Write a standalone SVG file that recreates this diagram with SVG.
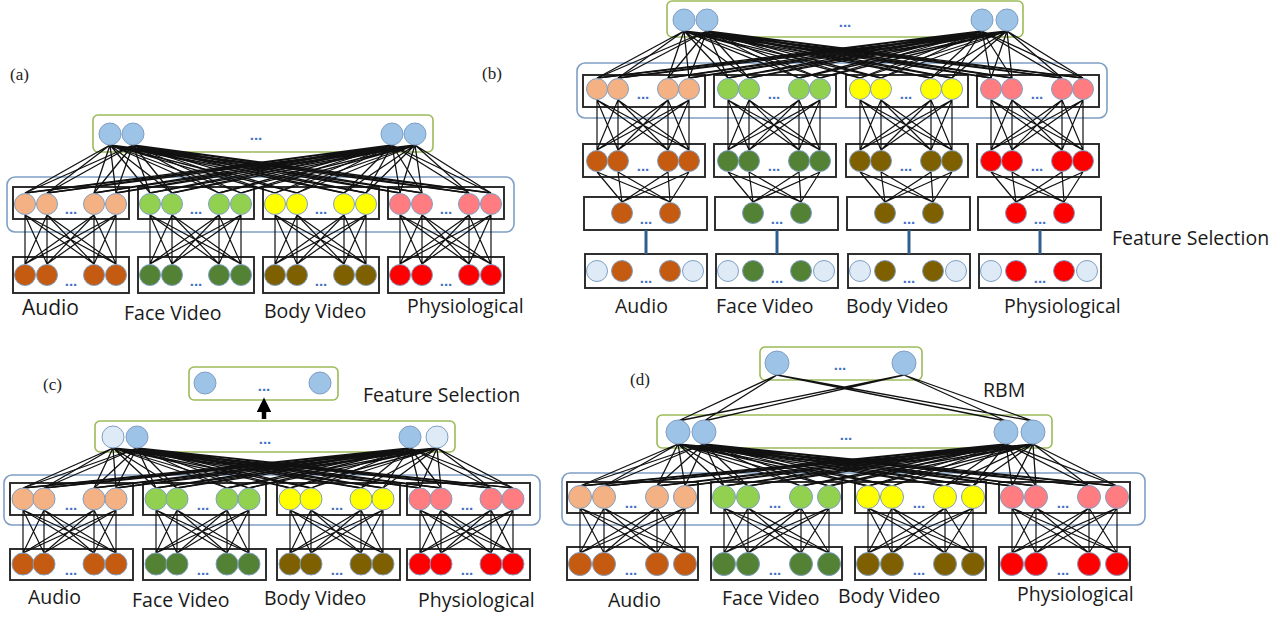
<svg xmlns="http://www.w3.org/2000/svg" width="1282" height="617" viewBox="0 0 1282 617">
<style>
.bg{fill:#fff}
.gb{fill:#fff;stroke:#9bbb59;stroke-width:1.6}
.bb{fill:none;stroke:#7f9fc4;stroke-width:1.6}
.kb{fill:none;stroke:#262626;stroke-width:1.9}
.ln{fill:none;stroke:#111;stroke-width:1.2}
.fan{fill:none;stroke:#111;stroke-width:1.3}
.bar{stroke:#2f5f8f;stroke-width:3}
circle{stroke:#7f9fc4;stroke-width:1}
.lo{fill:#f4b183}.do{fill:#c55a11}.lg{fill:#92d050}.dg{fill:#548235}
.ye{fill:#ffff00}.ol{fill:#7f6000}.pk{fill:#ff7c80}.rd{fill:#ff0000}
.bl{fill:#9dc3e6}.lb{fill:#deebf7}
.dt{font-family:"Liberation Sans",Arial,sans-serif;font-size:15px;font-weight:bold;fill:#4472c4;text-anchor:middle}
.lab{font-family:"Open Sans","Liberation Sans",sans-serif;font-size:19.5px;fill:#1a1a1a}
.pl{font-family:"Liberation Serif","Times New Roman",serif;font-size:17px;fill:#222}
</style>
<defs>
<marker id="ah" viewBox="0 0 10 10" refX="2" refY="5" markerWidth="3.2" markerHeight="3.2" orient="auto">
<path d="M0,0L10,5L0,10z" fill="#000"/>
</marker>
<path id="ma" class="ln" d="M12 215L12 264M12 215L34 264M12 215L81 264M12 215L103 264M34 215L12 264M34 215L34 264M34 215L81 264M34 215L103 264M81 215L12 264M81 215L34 264M81 215L81 264M81 215L103 264M103 215L12 264M103 215L34 264M103 215L81 264M103 215L103 264"/>
<path id="mb1" class="ln" d="M14 100L14 150M14 100L35 150M14 100L85 150M14 100L106 150M35 100L14 150M35 100L35 150M35 100L85 150M35 100L106 150M85 100L14 150M85 100L35 150M85 100L85 150M85 100L106 150M106 100L14 150M106 100L35 150M106 100L85 150M106 100L106 150"/>
<path id="mb2" class="ln" d="M14 172L39 202M14 172L87 202M35 172L39 202M35 172L87 202M85 172L39 202M85 172L87 202M106 172L39 202M106 172L87 202"/>
<path id="mc" class="ln" d="M13 510L13 553M13 510L34 553M13 510L84 553M13 510L106 553M34 510L13 553M34 510L34 553M34 510L84 553M34 510L106 553M84 510L13 553M84 510L34 553M84 510L84 553M84 510L106 553M106 510L13 553M106 510L34 553M106 510L84 553M106 510L106 553"/>
<path id="md" class="ln" d="M13 508L13 553M13 508L37 553M13 508L90 553M13 508L118 553M37 508L13 553M37 508L37 553M37 508L90 553M37 508L118 553M90 508L13 553M90 508L37 553M90 508L90 553M90 508L118 553M118 508L13 553M118 508L37 553M118 508L90 553M118 508L118 553"/>
</defs>
<rect class="bg" x="0" y="0" width="1282" height="617"/>

<!-- ===== Panel (a) boxes ===== -->
<g id="a-joint"><rect class="gb" x="93" y="115" width="340" height="37" rx="5"/></g>
<g id="a-shared"><rect class="bb" x="7" y="177" width="507" height="55" rx="8"/></g>
<g id="a-boxes">
<rect class="kb" x="13" y="187" width="116" height="32"/><rect class="kb" x="138" y="187" width="116" height="32"/><rect class="kb" x="263" y="187" width="116" height="32"/><rect class="kb" x="388" y="187" width="116" height="32"/>
<rect class="kb" x="13" y="257" width="116" height="36"/><rect class="kb" x="138" y="257" width="116" height="36"/><rect class="kb" x="263" y="257" width="116" height="36"/><rect class="kb" x="388" y="257" width="116" height="36"/>
</g>

<!-- ===== Panel (b) boxes ===== -->
<g id="b-joint"><rect class="gb" x="667" y="1" width="356" height="36" rx="5"/></g>
<g id="b-shared"><rect class="bb" x="577" y="63" width="530" height="55" rx="8"/></g>
<g id="b-boxes">
<rect class="kb" x="583" y="75" width="122" height="32"/><rect class="kb" x="714" y="75" width="122" height="32"/><rect class="kb" x="846" y="75" width="122" height="32"/><rect class="kb" x="977" y="75" width="122" height="32"/>
<rect class="kb" x="583" y="144" width="122" height="33"/><rect class="kb" x="714" y="144" width="122" height="33"/><rect class="kb" x="846" y="144" width="122" height="33"/><rect class="kb" x="977" y="144" width="122" height="33"/>
<rect class="kb" x="584" y="197" width="123" height="33"/><rect class="kb" x="715" y="197" width="123" height="33"/><rect class="kb" x="847" y="197" width="123" height="33"/><rect class="kb" x="978" y="197" width="123" height="33"/>
<rect class="kb" x="585" y="254" width="122" height="34"/><rect class="kb" x="716" y="254" width="122" height="34"/><rect class="kb" x="848" y="254" width="122" height="34"/><rect class="kb" x="979" y="254" width="122" height="34"/>
</g>

<!-- ===== Panel (c) boxes ===== -->
<g id="c-selected"><rect class="gb" x="189" y="367" width="149" height="33" rx="5"/></g>
<g id="c-joint"><rect class="gb" x="95" y="421" width="360" height="31" rx="5"/></g>
<g id="c-shared"><rect class="bb" x="4" y="475" width="536" height="50" rx="8"/></g>
<g id="c-boxes">
<rect class="kb" x="10" y="483" width="123" height="32"/><rect class="kb" x="143" y="483" width="123" height="32"/><rect class="kb" x="277" y="483" width="123" height="32"/><rect class="kb" x="407" y="483" width="123" height="32"/>
<rect class="kb" x="10" y="549" width="123" height="31"/><rect class="kb" x="143" y="549" width="123" height="31"/><rect class="kb" x="277" y="549" width="123" height="31"/><rect class="kb" x="407" y="549" width="123" height="31"/>
</g>

<!-- ===== Panel (d) boxes ===== -->
<g id="d-rbm"><rect class="gb" x="760" y="347" width="162" height="33" rx="5"/></g>
<g id="d-joint"><rect class="gb" x="657" y="415" width="395" height="33" rx="5"/></g>
<g id="d-shared"><rect class="bb" x="562" y="473" width="583" height="52" rx="8"/></g>
<g id="d-boxes">
<rect class="kb" x="567" y="482" width="131" height="31"/><rect class="kb" x="711" y="482" width="131" height="31"/><rect class="kb" x="855" y="482" width="131" height="31"/><rect class="kb" x="999" y="482" width="131" height="31"/>
<rect class="kb" x="567" y="547" width="131" height="33"/><rect class="kb" x="711" y="547" width="131" height="33"/><rect class="kb" x="855" y="547" width="131" height="33"/><rect class="kb" x="999" y="547" width="131" height="33"/>
</g>

<!-- ===== Connectors ===== -->
<g id="connectors">
<!-- (a) -->
<path class="fan" d="M110 145L25 193M110 145L47 193M110 145L94 193M110 145L116 193M110 145L150 193M110 145L172 193M110 145L219 193M110 145L241 193M110 145L275 193M110 145L297 193M110 145L344 193M110 145L366 193M110 145L400 193M110 145L422 193M110 145L469 193M110 145L491 193"/>
<path class="fan" d="M133 145L25 193M133 145L47 193M133 145L94 193M133 145L116 193M133 145L150 193M133 145L172 193M133 145L219 193M133 145L241 193M133 145L275 193M133 145L297 193M133 145L344 193M133 145L366 193M133 145L400 193M133 145L422 193M133 145L469 193M133 145L491 193"/>
<path class="fan" d="M392 145L25 193M392 145L47 193M392 145L94 193M392 145L116 193M392 145L150 193M392 145L172 193M392 145L219 193M392 145L241 193M392 145L275 193M392 145L297 193M392 145L344 193M392 145L366 193M392 145L400 193M392 145L422 193M392 145L469 193M392 145L491 193"/>
<path class="fan" d="M415 145L25 193M415 145L47 193M415 145L94 193M415 145L116 193M415 145L150 193M415 145L172 193M415 145L219 193M415 145L241 193M415 145L275 193M415 145L297 193M415 145L344 193M415 145L366 193M415 145L400 193M415 145L422 193M415 145L469 193M415 145L491 193"/>
<use href="#ma" x="13"/><use href="#ma" x="138"/><use href="#ma" x="263"/><use href="#ma" x="388"/>
<!-- (b) -->
<path class="fan" d="M684 31L597 78M684 31L618 78M684 31L668 78M684 31L689 78M684 31L728 78M684 31L749 78M684 31L799 78M684 31L820 78M684 31L860 78M684 31L881 78M684 31L931 78M684 31L952 78M684 31L991 78M684 31L1012 78M684 31L1062 78M684 31L1083 78"/>
<path class="fan" d="M707 31L597 78M707 31L618 78M707 31L668 78M707 31L689 78M707 31L728 78M707 31L749 78M707 31L799 78M707 31L820 78M707 31L860 78M707 31L881 78M707 31L931 78M707 31L952 78M707 31L991 78M707 31L1012 78M707 31L1062 78M707 31L1083 78"/>
<path class="fan" d="M982 31L597 78M982 31L618 78M982 31L668 78M982 31L689 78M982 31L728 78M982 31L749 78M982 31L799 78M982 31L820 78M982 31L860 78M982 31L881 78M982 31L931 78M982 31L952 78M982 31L991 78M982 31L1012 78M982 31L1062 78M982 31L1083 78"/>
<path class="fan" d="M1007 31L597 78M1007 31L618 78M1007 31L668 78M1007 31L689 78M1007 31L728 78M1007 31L749 78M1007 31L799 78M1007 31L820 78M1007 31L860 78M1007 31L881 78M1007 31L931 78M1007 31L952 78M1007 31L991 78M1007 31L1012 78M1007 31L1062 78M1007 31L1083 78"/>
<use href="#mb1" x="583"/><use href="#mb1" x="714"/><use href="#mb1" x="846"/><use href="#mb1" x="977"/>
<use href="#mb2" x="583"/><use href="#mb2" x="714"/><use href="#mb2" x="846"/><use href="#mb2" x="977"/>
<line class="bar" x1="646" y1="230" x2="646" y2="254"/><line class="bar" x1="777" y1="230" x2="777" y2="254"/><line class="bar" x1="909" y1="230" x2="909" y2="254"/><line class="bar" x1="1040" y1="230" x2="1040" y2="254"/>
<!-- (c) -->
<line x1="264" y1="419" x2="264" y2="409" stroke="#000" stroke-width="4.5" marker-end="url(#ah)"/>
<path class="fan" d="M113 448L23 488M113 448L44 488M113 448L94 488M113 448L116 488M113 448L156 488M113 448L177 488M113 448L227 488M113 448L249 488M113 448L290 488M113 448L311 488M113 448L361 488M113 448L383 488M113 448L420 488M113 448L441 488M113 448L491 488M113 448L513 488"/>
<path class="fan" d="M137 448L23 488M137 448L44 488M137 448L94 488M137 448L116 488M137 448L156 488M137 448L177 488M137 448L227 488M137 448L249 488M137 448L290 488M137 448L311 488M137 448L361 488M137 448L383 488M137 448L420 488M137 448L441 488M137 448L491 488M137 448L513 488"/>
<path class="fan" d="M410 448L23 488M410 448L44 488M410 448L94 488M410 448L116 488M410 448L156 488M410 448L177 488M410 448L227 488M410 448L249 488M410 448L290 488M410 448L311 488M410 448L361 488M410 448L383 488M410 448L420 488M410 448L441 488M410 448L491 488M410 448L513 488"/>
<path class="fan" d="M437 448L23 488M437 448L44 488M437 448L94 488M437 448L116 488M437 448L156 488M437 448L177 488M437 448L227 488M437 448L249 488M437 448L290 488M437 448L311 488M437 448L361 488M437 448L383 488M437 448L420 488M437 448L441 488M437 448L491 488M437 448L513 488"/>
<use href="#mc" x="10"/><use href="#mc" x="143"/><use href="#mc" x="277"/><use href="#mc" x="407"/>
<!-- (d) -->
<path class="fan" d="M777 375L678 421M777 375L704 421M777 375L1006 421M777 375L1033 421M904 375L678 421M904 375L704 421M904 375L1006 421M904 375L1033 421"/>
<path class="fan" d="M678 444L580 486M678 444L604 486M678 444L657 486M678 444L685 486M678 444L724 486M678 444L748 486M678 444L801 486M678 444L829 486M678 444L868 486M678 444L892 486M678 444L945 486M678 444L973 486M678 444L1012 486M678 444L1036 486M678 444L1089 486M678 444L1117 486"/>
<path class="fan" d="M704 444L580 486M704 444L604 486M704 444L657 486M704 444L685 486M704 444L724 486M704 444L748 486M704 444L801 486M704 444L829 486M704 444L868 486M704 444L892 486M704 444L945 486M704 444L973 486M704 444L1012 486M704 444L1036 486M704 444L1089 486M704 444L1117 486"/>
<path class="fan" d="M1006 444L580 486M1006 444L604 486M1006 444L657 486M1006 444L685 486M1006 444L724 486M1006 444L748 486M1006 444L801 486M1006 444L829 486M1006 444L868 486M1006 444L892 486M1006 444L945 486M1006 444L973 486M1006 444L1012 486M1006 444L1036 486M1006 444L1089 486M1006 444L1117 486"/>
<path class="fan" d="M1033 444L580 486M1033 444L604 486M1033 444L657 486M1033 444L685 486M1033 444L724 486M1033 444L748 486M1033 444L801 486M1033 444L829 486M1033 444L868 486M1033 444L892 486M1033 444L945 486M1033 444L973 486M1033 444L1012 486M1033 444L1036 486M1033 444L1089 486M1033 444L1117 486"/>
<use href="#md" x="567"/><use href="#md" x="711"/><use href="#md" x="855"/><use href="#md" x="999"/>
</g>

<!-- ===== Panel (a) nodes ===== -->
<g id="a-joint-units"><circle class="bl" cx="110" cy="134" r="11"/><circle class="bl" cx="133" cy="134" r="11"/><circle class="bl" cx="392" cy="134" r="11"/><circle class="bl" cx="415" cy="134" r="11"/><text class="dt" x="256" y="140">...</text></g>
<g id="a-audio-hidden"><circle class="lo" cx="25" cy="204" r="10.5"/><circle class="lo" cx="47" cy="204" r="10.5"/><circle class="lo" cx="94" cy="204" r="10.5"/><circle class="lo" cx="116" cy="204" r="10.5"/><text class="dt" x="71" y="214">...</text></g>
<g id="a-face-hidden"><circle class="lg" cx="150" cy="204" r="10.5"/><circle class="lg" cx="172" cy="204" r="10.5"/><circle class="lg" cx="219" cy="204" r="10.5"/><circle class="lg" cx="241" cy="204" r="10.5"/><text class="dt" x="196" y="214">...</text></g>
<g id="a-body-hidden"><circle class="ye" cx="275" cy="204" r="10.5"/><circle class="ye" cx="297" cy="204" r="10.5"/><circle class="ye" cx="344" cy="204" r="10.5"/><circle class="ye" cx="366" cy="204" r="10.5"/><text class="dt" x="321" y="214">...</text></g>
<g id="a-phys-hidden"><circle class="pk" cx="400" cy="204" r="10.5"/><circle class="pk" cx="422" cy="204" r="10.5"/><circle class="pk" cx="469" cy="204" r="10.5"/><circle class="pk" cx="491" cy="204" r="10.5"/><text class="dt" x="446" y="214">...</text></g>
<g id="a-audio-input"><circle class="do" cx="25" cy="275" r="10.5"/><circle class="do" cx="47" cy="275" r="10.5"/><circle class="do" cx="94" cy="275" r="10.5"/><circle class="do" cx="116" cy="275" r="10.5"/><text class="dt" x="71" y="286">...</text></g>
<g id="a-face-input"><circle class="dg" cx="150" cy="275" r="10.5"/><circle class="dg" cx="172" cy="275" r="10.5"/><circle class="dg" cx="219" cy="275" r="10.5"/><circle class="dg" cx="241" cy="275" r="10.5"/><text class="dt" x="196" y="286">...</text></g>
<g id="a-body-input"><circle class="ol" cx="275" cy="275" r="10.5"/><circle class="ol" cx="297" cy="275" r="10.5"/><circle class="ol" cx="344" cy="275" r="10.5"/><circle class="ol" cx="366" cy="275" r="10.5"/><text class="dt" x="321" y="286">...</text></g>
<g id="a-phys-input"><circle class="rd" cx="400" cy="275" r="10.5"/><circle class="rd" cx="422" cy="275" r="10.5"/><circle class="rd" cx="469" cy="275" r="10.5"/><circle class="rd" cx="491" cy="275" r="10.5"/><text class="dt" x="446" y="286">...</text></g>

<!-- ===== Panel (b) nodes ===== -->
<g id="b-joint-units"><circle class="bl" cx="684" cy="20" r="11"/><circle class="bl" cx="707" cy="20" r="11"/><circle class="bl" cx="982" cy="20" r="11"/><circle class="bl" cx="1007" cy="20" r="11"/><text class="dt" x="845" y="27">...</text></g>
<g id="b-audio-h1"><circle class="lo" cx="597" cy="89" r="10.5"/><circle class="lo" cx="618" cy="89" r="10.5"/><circle class="lo" cx="668" cy="89" r="10.5"/><circle class="lo" cx="689" cy="89" r="10.5"/><text class="dt" x="643" y="99">...</text></g>
<g id="b-face-h1"><circle class="lg" cx="728" cy="89" r="10.5"/><circle class="lg" cx="749" cy="89" r="10.5"/><circle class="lg" cx="799" cy="89" r="10.5"/><circle class="lg" cx="820" cy="89" r="10.5"/><text class="dt" x="774" y="99">...</text></g>
<g id="b-body-h1"><circle class="ye" cx="860" cy="89" r="10.5"/><circle class="ye" cx="881" cy="89" r="10.5"/><circle class="ye" cx="931" cy="89" r="10.5"/><circle class="ye" cx="952" cy="89" r="10.5"/><text class="dt" x="906" y="99">...</text></g>
<g id="b-phys-h1"><circle class="pk" cx="991" cy="89" r="10.5"/><circle class="pk" cx="1012" cy="89" r="10.5"/><circle class="pk" cx="1062" cy="89" r="10.5"/><circle class="pk" cx="1083" cy="89" r="10.5"/><text class="dt" x="1037" y="99">...</text></g>
<g id="b-audio-in"><circle class="do" cx="597" cy="161" r="10.5"/><circle class="do" cx="618" cy="161" r="10.5"/><circle class="do" cx="668" cy="161" r="10.5"/><circle class="do" cx="689" cy="161" r="10.5"/><text class="dt" x="643" y="171">...</text></g>
<g id="b-face-in"><circle class="dg" cx="728" cy="161" r="10.5"/><circle class="dg" cx="749" cy="161" r="10.5"/><circle class="dg" cx="799" cy="161" r="10.5"/><circle class="dg" cx="820" cy="161" r="10.5"/><text class="dt" x="774" y="171">...</text></g>
<g id="b-body-in"><circle class="ol" cx="860" cy="161" r="10.5"/><circle class="ol" cx="881" cy="161" r="10.5"/><circle class="ol" cx="931" cy="161" r="10.5"/><circle class="ol" cx="952" cy="161" r="10.5"/><text class="dt" x="906" y="171">...</text></g>
<g id="b-phys-in"><circle class="rd" cx="991" cy="161" r="10.5"/><circle class="rd" cx="1012" cy="161" r="10.5"/><circle class="rd" cx="1062" cy="161" r="10.5"/><circle class="rd" cx="1083" cy="161" r="10.5"/><text class="dt" x="1037" y="171">...</text></g>
<g id="b-audio-raw"><circle class="do" cx="622" cy="213" r="10.5"/><circle class="do" cx="670" cy="213" r="10.5"/><text class="dt" x="646" y="224">...</text></g>
<g id="b-face-raw"><circle class="dg" cx="753" cy="213" r="10.5"/><circle class="dg" cx="801" cy="213" r="10.5"/><text class="dt" x="777" y="224">...</text></g>
<g id="b-body-raw"><circle class="ol" cx="885" cy="213" r="10.5"/><circle class="ol" cx="933" cy="213" r="10.5"/><text class="dt" x="909" y="224">...</text></g>
<g id="b-phys-raw"><circle class="rd" cx="1016" cy="213" r="10.5"/><circle class="rd" cx="1064" cy="213" r="10.5"/><text class="dt" x="1040" y="224">...</text></g>
<g id="b-audio-sel"><circle class="lb" cx="597" cy="271" r="10.5"/><circle class="do" cx="622" cy="271" r="10.5"/><circle class="do" cx="670" cy="271" r="10.5"/><circle class="lb" cx="693" cy="271" r="10.5"/><text class="dt" x="646" y="283">...</text></g>
<g id="b-face-sel"><circle class="lb" cx="728" cy="271" r="10.5"/><circle class="dg" cx="753" cy="271" r="10.5"/><circle class="dg" cx="801" cy="271" r="10.5"/><circle class="lb" cx="824" cy="271" r="10.5"/><text class="dt" x="777" y="283">...</text></g>
<g id="b-body-sel"><circle class="lb" cx="860" cy="271" r="10.5"/><circle class="ol" cx="885" cy="271" r="10.5"/><circle class="ol" cx="933" cy="271" r="10.5"/><circle class="lb" cx="956" cy="271" r="10.5"/><text class="dt" x="909" y="283">...</text></g>
<g id="b-phys-sel"><circle class="lb" cx="991" cy="271" r="10.5"/><circle class="rd" cx="1016" cy="271" r="10.5"/><circle class="rd" cx="1064" cy="271" r="10.5"/><circle class="lb" cx="1087" cy="271" r="10.5"/><text class="dt" x="1040" y="283">...</text></g>

<!-- ===== Panel (c) nodes ===== -->
<g id="c-selected-units"><circle class="bl" cx="205" cy="383" r="11"/><circle class="bl" cx="320" cy="383" r="11"/><text class="dt" x="264" y="391">...</text></g>
<g id="c-joint-units"><circle class="lb" cx="113" cy="437" r="11"/><circle class="bl" cx="137" cy="437" r="11"/><circle class="bl" cx="410" cy="437" r="11"/><circle class="lb" cx="437" cy="437" r="11"/><text class="dt" x="265" y="444">...</text></g>
<g id="c-audio-hidden"><circle class="lo" cx="23" cy="499" r="11"/><circle class="lo" cx="44" cy="499" r="11"/><circle class="lo" cx="94" cy="499" r="11"/><circle class="lo" cx="116" cy="499" r="11"/><text class="dt" x="71" y="510">...</text></g>
<g id="c-face-hidden"><circle class="lg" cx="156" cy="499" r="11"/><circle class="lg" cx="177" cy="499" r="11"/><circle class="lg" cx="227" cy="499" r="11"/><circle class="lg" cx="249" cy="499" r="11"/><text class="dt" x="203" y="510">...</text></g>
<g id="c-body-hidden"><circle class="ye" cx="290" cy="499" r="11"/><circle class="ye" cx="311" cy="499" r="11"/><circle class="ye" cx="361" cy="499" r="11"/><circle class="ye" cx="383" cy="499" r="11"/><text class="dt" x="337" y="510">...</text></g>
<g id="c-phys-hidden"><circle class="pk" cx="420" cy="499" r="11"/><circle class="pk" cx="441" cy="499" r="11"/><circle class="pk" cx="491" cy="499" r="11"/><circle class="pk" cx="513" cy="499" r="11"/><text class="dt" x="467" y="510">...</text></g>
<g id="c-audio-input"><circle class="do" cx="23" cy="564" r="11"/><circle class="do" cx="44" cy="564" r="11"/><circle class="do" cx="94" cy="564" r="11"/><circle class="do" cx="116" cy="564" r="11"/><text class="dt" x="71" y="575">...</text></g>
<g id="c-face-input"><circle class="dg" cx="156" cy="564" r="11"/><circle class="dg" cx="177" cy="564" r="11"/><circle class="dg" cx="227" cy="564" r="11"/><circle class="dg" cx="249" cy="564" r="11"/><text class="dt" x="203" y="575">...</text></g>
<g id="c-body-input"><circle class="ol" cx="290" cy="564" r="11"/><circle class="ol" cx="311" cy="564" r="11"/><circle class="ol" cx="361" cy="564" r="11"/><circle class="ol" cx="383" cy="564" r="11"/><text class="dt" x="337" y="575">...</text></g>
<g id="c-phys-input"><circle class="rd" cx="420" cy="564" r="11"/><circle class="rd" cx="441" cy="564" r="11"/><circle class="rd" cx="491" cy="564" r="11"/><circle class="rd" cx="513" cy="564" r="11"/><text class="dt" x="467" y="575">...</text></g>

<!-- ===== Panel (d) nodes ===== -->
<g id="d-rbm-units"><circle class="bl" cx="777" cy="363" r="12"/><circle class="bl" cx="904" cy="363" r="12"/><text class="dt" x="840" y="370">...</text></g>
<g id="d-joint-units"><circle class="bl" cx="678" cy="432" r="12"/><circle class="bl" cx="704" cy="432" r="12"/><circle class="bl" cx="1006" cy="432" r="12"/><circle class="bl" cx="1033" cy="432" r="12"/><text class="dt" x="846" y="440">...</text></g>
<g id="d-audio-hidden"><circle class="lo" cx="580" cy="497" r="11.5"/><circle class="lo" cx="604" cy="497" r="11.5"/><circle class="lo" cx="657" cy="497" r="11.5"/><circle class="lo" cx="685" cy="497" r="11.5"/><text class="dt" x="631" y="508">...</text></g>
<g id="d-face-hidden"><circle class="lg" cx="724" cy="497" r="11.5"/><circle class="lg" cx="748" cy="497" r="11.5"/><circle class="lg" cx="801" cy="497" r="11.5"/><circle class="lg" cx="829" cy="497" r="11.5"/><text class="dt" x="775" y="508">...</text></g>
<g id="d-body-hidden"><circle class="ye" cx="868" cy="497" r="11.5"/><circle class="ye" cx="892" cy="497" r="11.5"/><circle class="ye" cx="945" cy="497" r="11.5"/><circle class="ye" cx="973" cy="497" r="11.5"/><text class="dt" x="919" y="508">...</text></g>
<g id="d-phys-hidden"><circle class="pk" cx="1012" cy="497" r="11.5"/><circle class="pk" cx="1036" cy="497" r="11.5"/><circle class="pk" cx="1089" cy="497" r="11.5"/><circle class="pk" cx="1117" cy="497" r="11.5"/><text class="dt" x="1063" y="508">...</text></g>
<g id="d-audio-input"><circle class="do" cx="580" cy="564" r="11.5"/><circle class="do" cx="604" cy="564" r="11.5"/><circle class="do" cx="657" cy="564" r="11.5"/><circle class="do" cx="685" cy="564" r="11.5"/><text class="dt" x="631" y="575">...</text></g>
<g id="d-face-input"><circle class="dg" cx="724" cy="564" r="11.5"/><circle class="dg" cx="748" cy="564" r="11.5"/><circle class="dg" cx="801" cy="564" r="11.5"/><circle class="dg" cx="829" cy="564" r="11.5"/><text class="dt" x="775" y="575">...</text></g>
<g id="d-body-input"><circle class="ol" cx="868" cy="564" r="11.5"/><circle class="ol" cx="892" cy="564" r="11.5"/><circle class="ol" cx="945" cy="564" r="11.5"/><circle class="ol" cx="973" cy="564" r="11.5"/><text class="dt" x="919" y="575">...</text></g>
<g id="d-phys-input"><circle class="rd" cx="1012" cy="564" r="11.5"/><circle class="rd" cx="1036" cy="564" r="11.5"/><circle class="rd" cx="1089" cy="564" r="11.5"/><circle class="rd" cx="1117" cy="564" r="11.5"/><text class="dt" x="1063" y="575">...</text></g>

<!-- ===== Labels ===== -->
<g id="labels">
<text class="pl" x="10" y="80">(a)</text>
<text class="pl" x="482" y="79">(b)</text>
<text class="pl" x="43" y="390">(c)</text>
<text class="pl" x="630" y="385">(d)</text>
<text class="lab" x="22" y="315" style="font-size:21px">Audio</text>
<text class="lab" x="124" y="320">Face Video</text>
<text class="lab" x="264" y="318">Body Video</text>
<text class="lab" x="407" y="313">Physiological</text>
<text class="lab" x="615" y="313">Audio</text>
<text class="lab" x="716" y="313">Face Video</text>
<text class="lab" x="846" y="313">Body Video</text>
<text class="lab" x="1004" y="313">Physiological</text>
<text class="lab" x="1112" y="245">Feature Selection</text>
<text class="lab" x="363" y="402">Feature Selection</text>
<text class="lab" x="28" y="604">Audio</text>
<text class="lab" x="132" y="607">Face Video</text>
<text class="lab" x="264" y="605">Body Video</text>
<text class="lab" x="418" y="607">Physiological</text>
<text class="lab" x="983" y="397">RBM</text>
<text class="lab" x="608" y="607">Audio</text>
<text class="lab" x="722" y="605">Face Video</text>
<text class="lab" x="838" y="603">Body Video</text>
<text class="lab" x="1017" y="601">Physiological</text>
</g>
</svg>
